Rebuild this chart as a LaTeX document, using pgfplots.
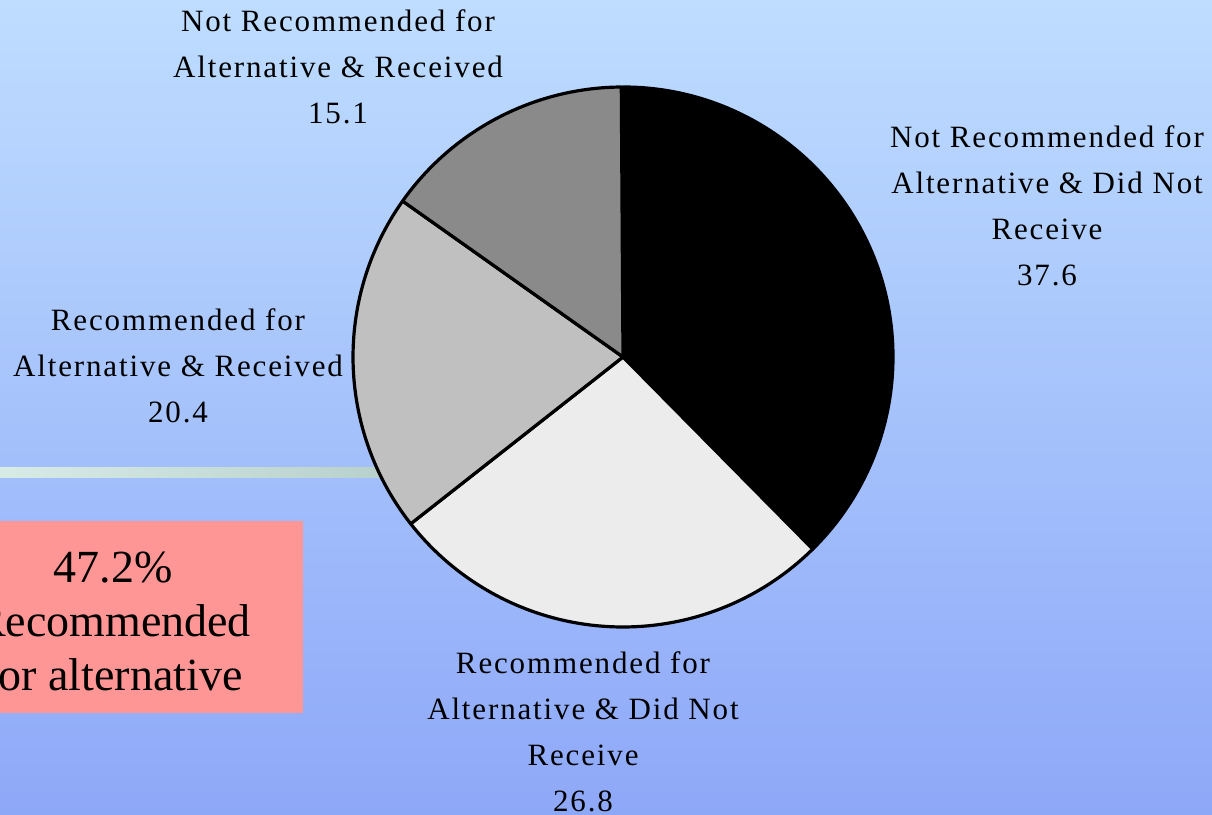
\documentclass[border=0pt]{standalone}
\usepackage{fontspec}
\setmainfont{Liberation Serif}
\newfontfamily\labelfont[LetterSpace=6]{Liberation Serif}
\usepackage{pgfplots}
\usepackage{pgfplotstable}
\pgfplotsset{compat=1.18}

\definecolor{bgtop}{RGB}{190,221,255}
\definecolor{bgbot}{RGB}{142,168,248}
\definecolor{lineleft}{RGB}{216,236,230}
\definecolor{lineright}{RGB}{184,208,204}
\definecolor{slicelight}{RGB}{236,236,236}
\definecolor{slicemid}{RGB}{192,192,192}
\definecolor{slicedark}{RGB}{138,138,138}
\definecolor{notebox}{RGB}{255,150,150}

% shares in percent, clockwise from 12 o'clock
\pgfplotstableread{
share fill
37.6  black
26.8  slicelight
20.4  slicemid
15.1  slicedark
}\piedata

\begin{document}
\begin{tikzpicture}
\begin{axis}[
    width=606pt, height=407.5pt, scale only axis,
    xmin=0, xmax=1212, ymin=-815, ymax=0,
    hide axis, clip=false,
]
\coordinate (bl) at (axis cs:0,-815);
\coordinate (tr) at (axis cs:1212,0);
\fill[top color=bgtop, bottom color=bgbot] (axis cs:0,0) rectangle (axis cs:1212,-815);
\fill[left color=lineleft, right color=lineright] (axis cs:-5,-468) rectangle (axis cs:385,-478);

\pgfplotsextra{
  \gdef\curangle{90}
  \pgfplotstablegetrowsof{\piedata}
  \pgfmathtruncatemacro\lastrow{\pgfplotsretval-1}
  \foreach \i in {0,...,\lastrow}{
    \pgfplotstablegetelem{\i}{share}\of\piedata
    \pgfmathsetmacro\sweep{3.6*\pgfplotsretval}
    \pgfplotstablegetelem{\i}{fill}\of\piedata
    \let\slicecolor\pgfplotsretval
    \pgfmathsetmacro\endangle{\curangle-\sweep}
    \filldraw[fill=\slicecolor, draw=black, line width=1.6pt, line join=round]
      (axis cs:623,-357) -- ++(\curangle:135pt)
      arc[start angle=\curangle, end angle=\endangle, radius=135pt] -- cycle;
    \xdef\curangle{\endangle}
  }
}

\tikzset{lbl/.style={align=center, font=\labelfont\fontsize{15.5}{23}\selectfont}}
\node[lbl] at (axis cs:1047,-206) {Not Recommended for\\Alternative \& Did Not\\Receive\\37.6};
\node[lbl] at (axis cs:583,-732) {Recommended for\\Alternative \& Did Not\\Receive\\26.8};
\node[lbl] at (axis cs:178,-366) {Recommended for\\Alternative \& Received\\20.4};
\node[lbl] at (axis cs:338,-67) {Not Recommended for\\Alternative \& Received\\15.1};

\fill[notebox] (axis cs:-80,-521) rectangle (axis cs:303,-713);
\node[align=center, font=\fontsize{23}{27}\selectfont] at (axis cs:113,-621)
  {47.2\%\\Recommended\\for alternative};
\end{axis}
\pgfresetboundingbox
\useasboundingbox (bl) rectangle (tr);
\end{tikzpicture}
\end{document}
